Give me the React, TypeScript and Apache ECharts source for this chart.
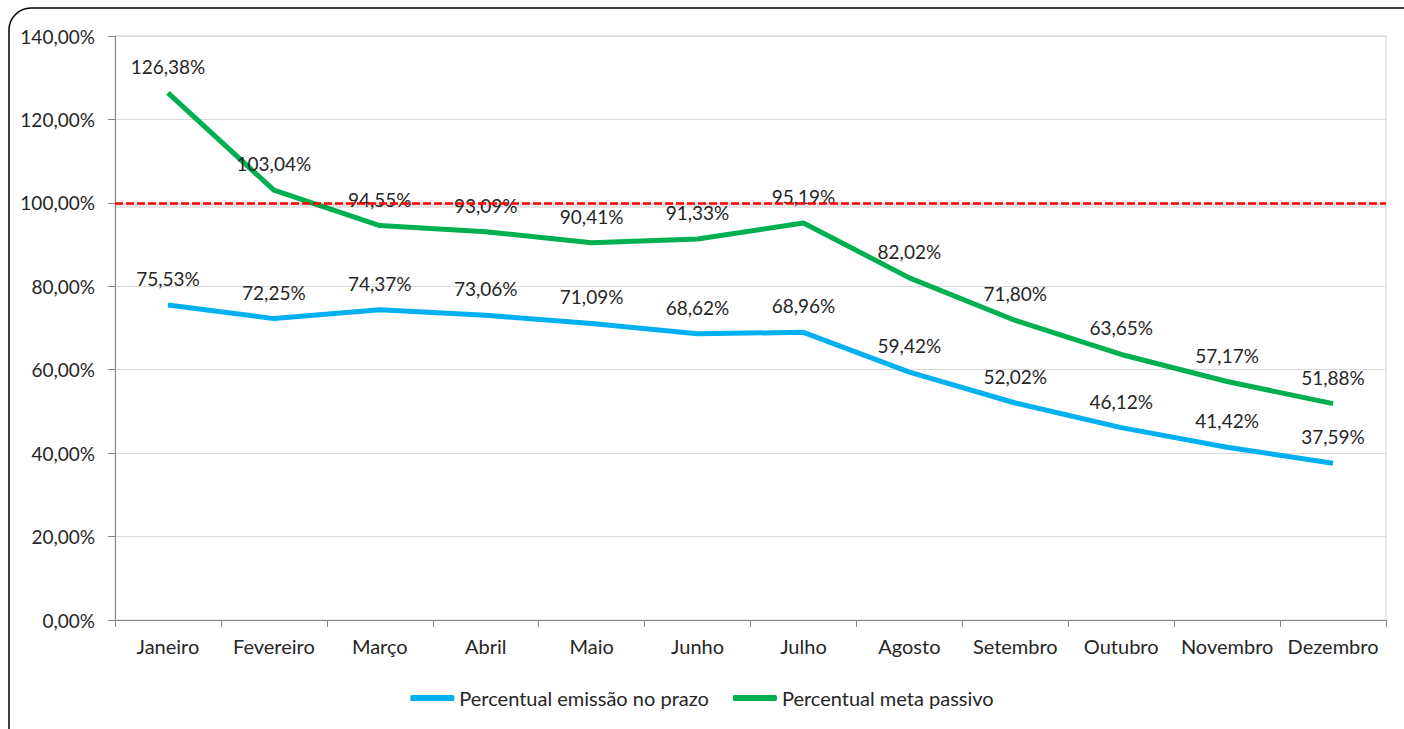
import React, { useEffect, useRef } from "react";
import * as echarts from "echarts";

const months = ["Janeiro", "Fevereiro", "Março", "Abril", "Maio", "Junho", "Julho", "Agosto", "Setembro", "Outubro", "Novembro", "Dezembro"];
const emissaoNoPrazo = [75.53, 72.25, 74.37, 73.06, 71.09, 68.62, 68.96, 59.42, 52.02, 46.12, 41.42, 37.59];
const metaPassivo = [126.38, 103.04, 94.55, 93.09, 90.41, 91.33, 95.19, 82.02, 71.8, 63.65, 57.17, 51.88];
const metaLinha = 100;

const FONT = "Lato";
const TXT = "#262626";
const FS = 19;

const fmt = (v: number) => v.toFixed(2).replace(".", ",") + "%";

export default function App() {
  const ref = useRef<HTMLDivElement>(null);
  useEffect(() => {
    if (!ref.current) return;
    const chart = echarts.init(ref.current, undefined, { renderer: "svg" });
    const labelCfg = {
      show: true,
      position: "top" as const,
      distance: 17,
      fontFamily: FONT,
      fontSize: FS,
      color: TXT,
      formatter: (p: any) => fmt(p.value),
    };
    // shadow offset of the target line (about 2-3 px below), converted to axis units
    const shadowShift = (2.5 * 140) / 584;
    chart.setOption({
      animation: false,
      backgroundColor: "#fff",
      textStyle: { fontFamily: FONT },
      graphic: [
        {
          type: "rect",
          shape: { x: 9, y: 8, width: 1430, height: 760, r: 22 },
          style: { fill: "none", stroke: "#000", lineWidth: 1.5 },
          silent: true,
          z: 100,
        },
      ],
      grid: {
        left: 115,
        right: 18,
        top: 36,
        bottom: 109,
        show: true,
        borderColor: "#d9d9d9",
        borderWidth: 1,
        containLabel: false,
      },
      legend: {
        bottom: 16,
        left: "center",
        itemWidth: 44,
        itemHeight: 6,
        itemGap: 24,
        icon: "roundRect",
        textStyle: { fontFamily: FONT, fontSize: 20, color: TXT },
        data: [
          { name: "Percentual emissão no prazo", itemStyle: { color: "#00B0F0", opacity: 1 } },
          { name: "Percentual meta passivo", itemStyle: { color: "#00B050", opacity: 1 } },
        ],
      },
      xAxis: {
        type: "category",
        data: months,
        boundaryGap: true,
        axisLine: { lineStyle: { color: "#868686", width: 1 } },
        axisTick: { show: true, alignWithLabel: false, length: 7, lineStyle: { color: "#868686" } },
        axisLabel: { fontFamily: FONT, fontSize: 20, color: TXT, margin: 16, interval: 0 },
        splitLine: { show: false },
      },
      yAxis: {
        type: "value",
        min: 0,
        max: 140,
        interval: 20,
        axisLine: { show: true, lineStyle: { color: "#868686", width: 1 } },
        axisTick: { show: true, length: 7, lineStyle: { color: "#868686" } },
        axisLabel: { fontFamily: FONT, fontSize: FS, color: TXT, margin: 20, formatter: (v: number) => fmt(v) },
        splitLine: { show: true, lineStyle: { color: "#d9d9d9", width: 1 } },
      },
      series: [
        {
          name: "Percentual emissão no prazo",
          type: "line",
          data: emissaoNoPrazo,
          symbol: "circle",
          symbolSize: 0.01,
          showSymbol: true,
          itemStyle: { color: "#00B0F0" },
          lineStyle: { color: "#00B0F0", width: 5 },
          label: labelCfg,
          z: 3,
        },
        {
          name: "Percentual meta passivo",
          type: "line",
          data: metaPassivo,
          symbol: "circle",
          symbolSize: 0.01,
          showSymbol: true,
          itemStyle: { color: "#00B050" },
          lineStyle: { color: "#00B050", width: 5 },
          label: labelCfg,
          z: 3,
        },
        {
          name: "meta",
          type: "line",
          data: [],
          z: 4,
          markLine: {
            silent: true,
            symbol: ["none", "none"],
            label: { show: false },
            data: [
              {
                yAxis: metaLinha - shadowShift,
                lineStyle: { color: "rgba(0,0,0,0.10)", type: "solid", width: 4 },
              },
              {
                yAxis: metaLinha,
                lineStyle: { color: "#FF0000", type: [8, 3], width: 2.5 },
              },
            ],
          },
        },
      ],
    });
    return () => chart.dispose();
  }, []);
  return <div ref={ref} style={{ position: "absolute", left: 0, top: 0, width: 1404, height: 729 }} />;
}
